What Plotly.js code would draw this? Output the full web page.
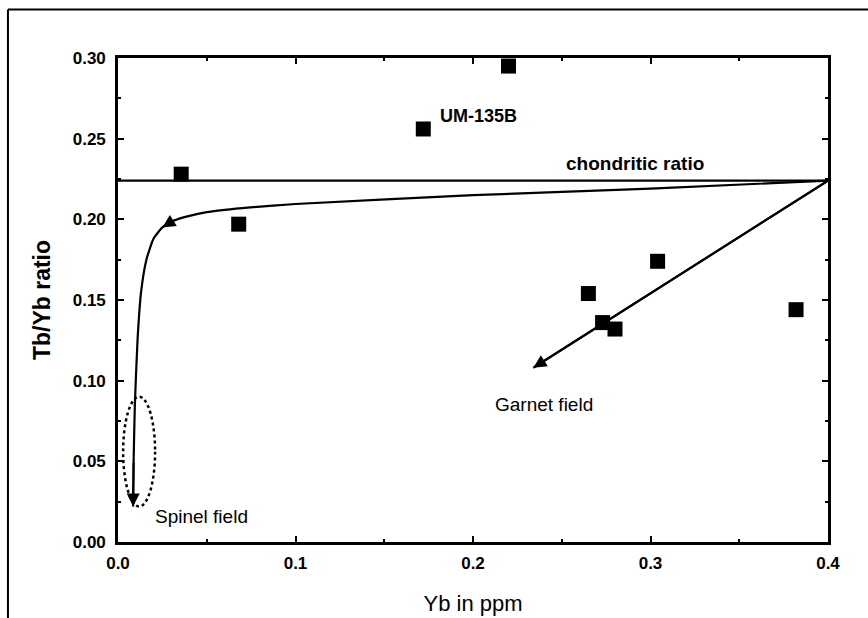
<!DOCTYPE html>
<html>
<head>
<meta charset="utf-8">
<script src="https://cdn.plot.ly/plotly-3.0.1.min.js"></script>
<style>
  html, body { margin: 0; padding: 0; background: #fff; }
  #chart { width: 868px; height: 618px; }
</style>
</head>
<body>
<div id="chart"></div>
<script>
// Samples: Yb (ppm) vs Tb/Yb ratio
const sampleYb   = [0.0356, 0.068, 0.172, 0.220, 0.265, 0.304, 0.273, 0.280, 0.382];
const sampleTbYb = [0.228, 0.197, 0.256, 0.295, 0.154, 0.174, 0.136, 0.132, 0.144];

// Chondritic Tb/Yb reference level
const chondriticRatio = 0.224;
const xRange = [0, 0.4];
const yRange = [0, 0.30];

// Spinel-field melting trend (from the chondritic source toward low Yb)
const spinelTrendYb   = [0.400, 0.300, 0.200, 0.100, 0.070, 0.050, 0.038, 0.030, 0.025, 0.020, 0.016, 0.013, 0.011, 0.0095, 0.0088, 0.0085];
const spinelTrendTbYb = [0.224, 0.219, 0.215, 0.2095, 0.207, 0.2045, 0.2015, 0.1985, 0.195, 0.188, 0.175, 0.155, 0.125, 0.085, 0.050, 0.022];

// Garnet-field melting trend: start and end
const garnetTrendYb   = [0.400, 0.234];
const garnetTrendTbYb = [0.224, 0.108];

// Spinel field outline (centre and half-widths)
const spinelFieldCentre = [0.0119, 0.056];
const spinelFieldHalf   = [0.009, 0.034];

const FONT = 'Liberation Sans, Arial, Helvetica, sans-serif';

const traces = [
  {
    x: xRange, y: [chondriticRatio, chondriticRatio],
    mode: 'lines', line: {color: '#000', width: 2.2},
    hoverinfo: 'skip', showlegend: false, cliponaxis: false
  },
  {
    x: spinelTrendYb, y: spinelTrendTbYb,
    mode: 'lines', line: {color: '#000', width: 2.2, shape: 'spline', smoothing: 0.5},
    hoverinfo: 'skip', showlegend: false
  },
  {
    x: garnetTrendYb, y: garnetTrendTbYb,
    mode: 'lines', line: {color: '#000', width: 2.2},
    hoverinfo: 'skip', showlegend: false
  },
  {
    x: sampleYb, y: sampleTbYb,
    mode: 'markers',
    marker: {symbol: 'square', size: 15, color: '#000'},
    showlegend: false, cliponaxis: false
  }
];

// arrowheads placed along the trends
function arrowHead(xs, ys, iHead, iTail) {
  return {
    x: xs[iHead], y: ys[iHead], ax: xs[iTail], ay: ys[iTail],
    xref: 'x', yref: 'y', axref: 'x', ayref: 'y',
    text: '', showarrow: true, arrowhead: 2, arrowsize: 1.3, arrowwidth: 2,
    arrowcolor: '#000', standoff: 0
  };
}

function label(text, x, y, size, bold) {
  return {
    x: x, y: y, xref: 'x', yref: 'y', text: bold ? '<b>' + text + '</b>' : text,
    showarrow: false, font: {family: FONT, size: size, color: '#000'}
  };
}

const n = spinelTrendYb.length;
const annotations = [
  arrowHead(spinelTrendYb, spinelTrendTbYb, 8, 7),
  arrowHead(spinelTrendYb, spinelTrendTbYb, n - 1, n - 2),
  arrowHead(garnetTrendYb, garnetTrendTbYb, 1, 0),
  label('UM-135B', 0.203, 0.264, 18, true),
  label('chondritic ratio', 0.2915, 0.2346, 19, true),
  label('Garnet field', 0.240, 0.085, 19, false),
  label('Spinel field', 0.047, 0.0156, 19, false)
];

const shapes = [
  {
    type: 'circle', xref: 'x', yref: 'y',
    x0: spinelFieldCentre[0] - spinelFieldHalf[0], x1: spinelFieldCentre[0] + spinelFieldHalf[0],
    y0: spinelFieldCentre[1] - spinelFieldHalf[1], y1: spinelFieldCentre[1] + spinelFieldHalf[1],
    line: {color: '#000', width: 2.5, dash: 'dot'}
  },
  // page frame
  {type: 'line', xref: 'paper', yref: 'paper', x0: -0.155, x1: 1.1, y0: 1.1, y1: 1.1,
   line: {color: '#000', width: 2}},
  {type: 'line', xref: 'paper', yref: 'paper', x0: -0.155, x1: -0.155, y0: 1.1, y1: -0.2,
   line: {color: '#000', width: 2}}
];

const axisCommon = {
  showgrid: false, zeroline: false,
  showline: true, linecolor: '#000', linewidth: 2.8,
  mirror: 'ticks', ticks: 'inside', ticklen: 6, tickwidth: 2, tickcolor: '#000',
  tickfont: {family: FONT, size: 17, color: '#000', weight: 'bold'},
  fixedrange: true
};

const layout = {
  width: 868, height: 618,
  margin: {l: 118, r: 40, t: 58, b: 76},
  paper_bgcolor: '#fff', plot_bgcolor: '#fff',
  showlegend: false,
  xaxis: Object.assign({}, axisCommon, {
    range: xRange, dtick: 0.1, tickformat: '.1f',
    minor: {dtick: 0.05, ticks: 'inside', ticklen: 3, tickwidth: 2, tickcolor: '#000'},
    ticklabelstandoff: 4,
    title: {text: 'Yb in ppm', font: {family: FONT, size: 22, color: '#000'}, standoff: 24}
  }),
  yaxis: Object.assign({}, axisCommon, {
    range: yRange, dtick: 0.05, tickformat: '.2f',
    minor: {dtick: 0.025, ticks: 'inside', ticklen: 3, tickwidth: 2, tickcolor: '#000'},
    ticklabelstandoff: 6,
    title: {text: '<b>Tb/Yb ratio</b>', font: {family: FONT, size: 23, color: '#000'}, standoff: 16}
  }),
  annotations: annotations,
  shapes: shapes
};

Plotly.newPlot('chart', traces, layout, {displayModeBar: false, staticPlot: true});
</script>
</body>
</html>
